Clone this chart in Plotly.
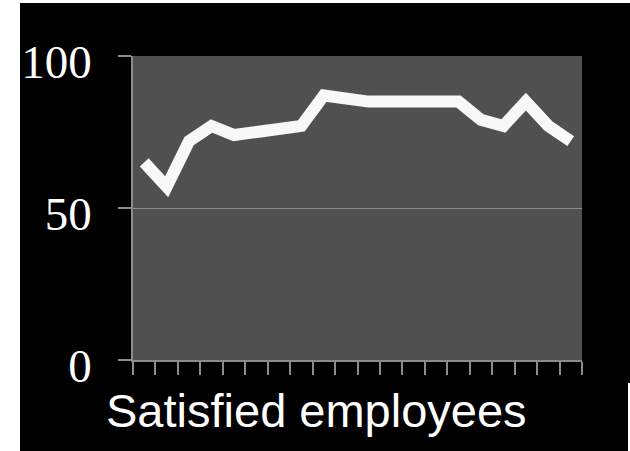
import plotly.graph_objects as go

# Survey periods and share of satisfied employees (%)
periods = list(range(1, 21))
satisfied = [65, 57, 72, 77, 74, 75, 76, 77, 87, 86, 85, 85, 85, 85, 85, 79, 77, 85, 77, 72]
y_ticks = [0, 50, 100]
title_text = "Satisfied employees"

W, H = 630, 451
L, R, T, B = 133, 48, 56, 91
plot_w = W - L - R
plot_h = H - T - B

fig = go.Figure()
fig.add_trace(go.Scatter(
    x=periods, y=satisfied, mode="lines",
    line=dict(color="#f8f8f8", width=12),
    hoverinfo="skip", showlegend=False,
))

axis_grey = "#8c8c8c"
fig.update_layout(
    width=W, height=H,
    margin=dict(l=L, r=R, t=T, b=B, pad=0),
    paper_bgcolor="#000000",
    plot_bgcolor="#505050",
    showlegend=False,
    xaxis=dict(
        range=[0.5, 20.5], tickmode="linear", tick0=0.5, dtick=1,
        ticks="outside", ticklen=13, tickwidth=1.5, tickcolor=axis_grey,
        showticklabels=False, showgrid=False, zeroline=False,
        showline=True, linecolor=axis_grey, linewidth=1.5,
        fixedrange=True,
    ),
    yaxis=dict(
        range=[0, 100], tickmode="array", tickvals=y_ticks,
        ticktext=[str(v) for v in y_ticks],
        ticks="outside", ticklen=13, tickwidth=1.5, tickcolor=axis_grey,
        tickfont=dict(family="Liberation Serif", size=47, color="#ffffff"),
        ticklabelstandoff=17, ticklabelshift=6,
        showgrid=True, gridcolor=axis_grey, gridwidth=1.2,
        zeroline=False, showline=True, linecolor=axis_grey, linewidth=1.5,
        fixedrange=True,
    ),
    annotations=[dict(
        text=title_text, xref="paper", yref="paper",
        x=(104 - L) / plot_w, y=(360 - 411) / plot_h,
        xanchor="left", yanchor="middle", showarrow=False,
        font=dict(family="Liberation Sans", size=47, color="#ffffff"),
    )],
    shapes=[
        # white page edges around the black slide
        dict(type="rect", xref="paper", yref="paper", layer="above",
             x0=-L / plot_w, x1=(20 - L) / plot_w,
             y0=-B / plot_h, y1=1 + T / plot_h,
             fillcolor="#ffffff", line=dict(width=0)),
        dict(type="rect", xref="paper", yref="paper", layer="above",
             x0=-L / plot_w, x1=1 + R / plot_w,
             y0=1 + (T - 3) / plot_h, y1=1 + T / plot_h,
             fillcolor="#ffffff", line=dict(width=0)),
        dict(type="rect", xref="paper", yref="paper", layer="above",
             x0=(628 - L) / plot_w, x1=1 + R / plot_w,
             y0=-B / plot_h, y1=(360 - 383) / plot_h,
             fillcolor="#ffffff", line=dict(width=0)),
    ],
)

fig.write_html("out.html")
